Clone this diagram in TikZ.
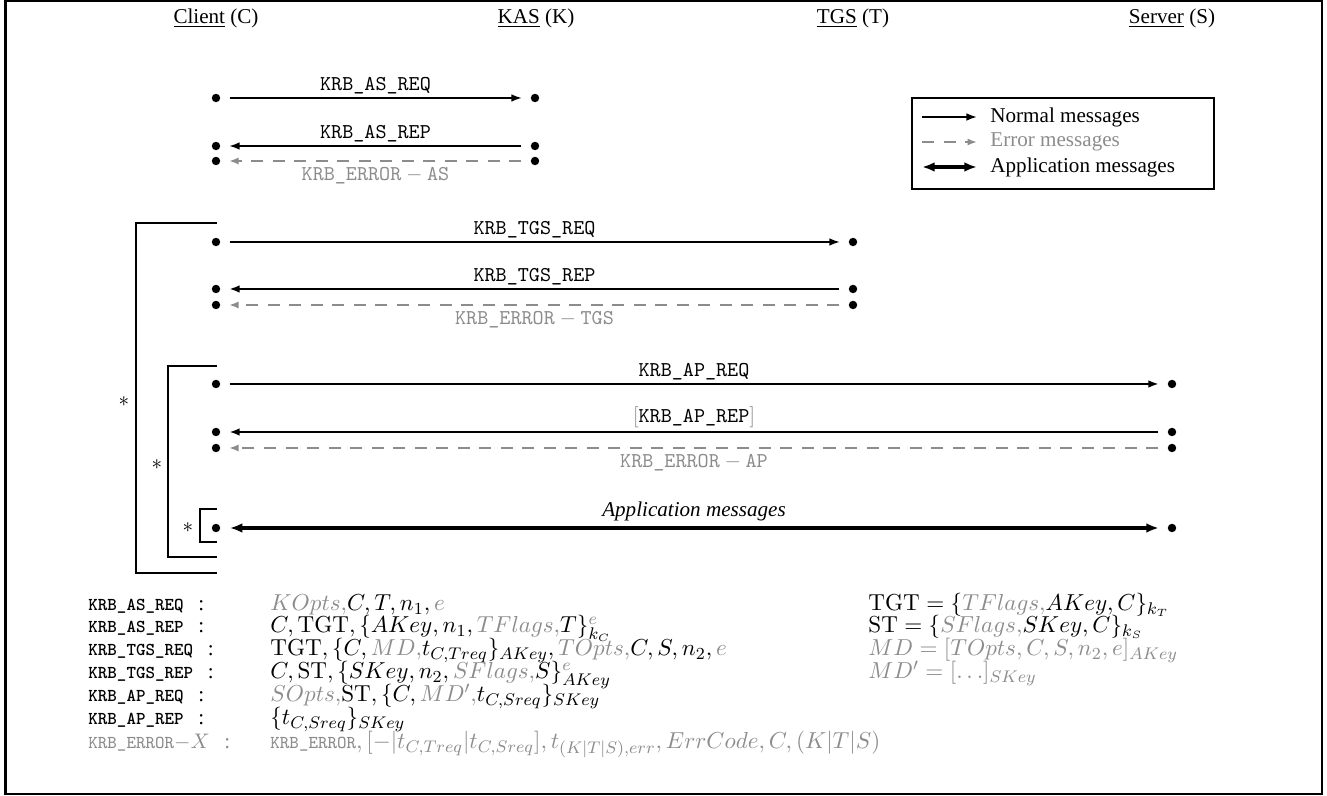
\documentclass[tikz,border=0pt]{standalone}
\usepackage[no-math]{fontspec}
\setmainfont{Liberation Serif}
\usetikzlibrary{arrows.meta}
\definecolor{errgray}{gray}{0.55}
\newcommand\grc[1]{\textcolor{errgray}{#1}}
\newcommand\krb[1]{\texttt{#1}}
\newcommand\bsm{\fontsize{8.6}{10}\selectfont\ttfamily\bfseries}
\newcommand\rsm{\fontsize{8.6}{10}\selectfont\ttfamily}
\begin{document}
\begin{tikzpicture}[x=0.474pt,y=-0.474pt,
  dot/.style={circle,fill=black,inner sep=0pt,minimum size=4pt},
  msg/.style={line width=0.8pt,-{Latex[length=5pt,width=3.6pt]},shorten >=4pt,shorten <=4.3pt},
  msgthick/.style={msg,line width=1.15pt},
  msgmid/.style={msg,line width=1pt},
  err/.style={errgray,line width=1pt,dash pattern=on 5.7pt off 4.5pt,-{Latex[length=4.5pt,width=3.4pt]},shorten >=4pt,shorten <=4.3pt},
  app/.style={line width=1.5pt,{Latex[length=6pt,width=4.6pt]}-{Latex[length=6pt,width=4.6pt]},shorten >=4pt,shorten <=4.3pt},
  lbl/.style={above,inner sep=1.5pt,font=\fontsize{10}{12}\selectfont},
  elbl/.style={below,inner sep=2.5pt,text=errgray,font=\fontsize{10}{12}\selectfont},
  hdr/.style={font=\fontsize{10}{12}\selectfont,inner sep=1pt},
  brk/.style={line width=1pt},
  legtxt/.style={anchor=west,inner sep=0pt,font=\fontsize{10}{12}\selectfont},
  blab/.style={anchor=base west,inner sep=0pt,font=\fontsize{10}{12}\selectfont},
  bmath/.style={anchor=base west,inner sep=0pt,font=\fontsize{11}{13}\selectfont}
]
\useasboundingbox (0,0) rectangle (1327,796);
\draw[line width=1pt] (5.5,1.2) rectangle (1322,794);

% headers
\node[hdr] (hC) at (216,18) {\underline{Client} (C)};
\node[hdr] (hK) at (536,18) {\underline{KAS} (K)};
\node[hdr] (hT) at (853,18) {\underline{TGS} (T)};
\node[hdr] (hS) at (1172,18) {\underline{Server} (S)};

% dots
\node[dot] (c1) at (216,98) {};  \node[dot] (k1) at (535,98) {};
\node[dot] (c2) at (216,146) {}; \node[dot] (k2) at (535,146) {};
\node[dot] (c3) at (216,161) {}; \node[dot] (k3) at (535,161) {};
\node[dot] (c4) at (216,242) {}; \node[dot] (t4) at (853,242) {};
\node[dot] (c5) at (216,289) {}; \node[dot] (t5) at (853,289) {};
\node[dot] (c6) at (216,305) {}; \node[dot] (t6) at (853,305) {};
\node[dot] (c7) at (216,384) {}; \node[dot] (s7) at (1172,384) {};
\node[dot] (c8) at (216,432) {}; \node[dot] (s8) at (1172,432) {};
\node[dot] (c9) at (216,448) {}; \node[dot] (s9) at (1172,448) {};
\node[dot] (c10) at (216,528) {}; \node[dot] (s10) at (1172,528) {};

% messages
\draw[msg] (c1) -- node[lbl] (l1) {\krb{KRB\_AS\_REQ}} (k1);
\draw[msg] (k2) -- node[lbl] (l2) {\krb{KRB\_AS\_REP}} (c2);
\draw[err] (k3) -- node[elbl] (l3) {\krb{KRB\_ERROR}${}-{}$\krb{AS}} (c3);
\draw[msg] (c4) -- node[lbl] (l4) {\krb{KRB\_TGS\_REQ}} (t4);
\draw[msgthick] (t5) -- node[lbl] (l5) {\krb{KRB\_TGS\_REP}} (c5);
\draw[err] (t6) -- node[elbl] (l6) {\krb{KRB\_ERROR}${}-{}$\krb{TGS}} (c6);
\draw[msgmid] (c7) -- node[lbl] (l7) {\krb{KRB\_AP\_REQ}} (s7);
\draw[msgmid] (s8) -- node[lbl] (l8) {\grc{$[$}\krb{KRB\_AP\_REP}\grc{$]$}} (c8);
\draw[err] (s9) -- node[elbl] (l9) {\krb{KRB\_ERROR}${}-{}$\krb{AP}} (c9);
\draw[app] (c10) -- node[lbl,inner sep=2.5pt] (l10) {\textit{Application messages}} (s10);

% brackets
\draw[brk] (217,223) -- (136,223) -- (136,573) -- (217,573);
\draw[brk] (217,366) -- (168,366) -- (168,557) -- (217,557);
\draw[brk] (217,509) -- (200,509) -- (200,542) -- (217,542);
\node[inner sep=0pt] (st1) at (124,402) {$*$};
\node[inner sep=0pt] (st2) at (157,465) {$*$};
\node[inner sep=0pt] (st3) at (188,528) {$*$};

% legend
\node[draw,line width=1pt,minimum width=143pt,minimum height=43pt,anchor=north west,inner sep=0pt] (leg) at (911,97) {};
\coordinate (la1) at (922,117); \coordinate (lb1) at (977,117);
\coordinate (la2) at (922,142); \coordinate (lb2) at (977,142);
\coordinate (la3) at (922,167); \coordinate (lb3) at (977,167);
\draw[msg,shorten >=0pt,shorten <=0pt] (la1) -- (lb1);
\draw[err,shorten >=0pt,shorten <=0pt] (la2) -- (lb2);
\draw[app,shorten >=0pt,shorten <=0pt] (la3) -- (lb3);
\node[legtxt] (lt1) at (990,117) {Normal messages};
\node[legtxt,text=errgray] (lt2) at (990,142) {Error messages};
\node[legtxt] (lt3) at (990,167) {Application messages};

% bottom definitions
\node[blab] (b1) at (88,611) {{\bsm KRB\_AS\_REQ}\hspace{7pt}:};
\node[blab] (b2) at (88,633) {{\bsm KRB\_AS\_REP}\hspace{7pt}:};
\node[blab] (b3) at (88,656) {{\bsm KRB\_TGS\_REQ}\hspace{7pt}:};
\node[blab] (b4) at (88,679) {{\bsm KRB\_TGS\_REP}\hspace{7pt}:};
\node[blab] (b5) at (88,702) {{\bsm KRB\_AP\_REQ}\hspace{7pt}:};
\node[blab] (b6) at (88,725) {{\bsm KRB\_AP\_REP}\hspace{7pt}:};
\node[blab,text=errgray] (b7) at (88,749) {{\rsm KRB\_ERROR}$-X$\hspace{7pt}:};

\node[bmath] (m1) at (270,611) {$\grc{KOpts,}C,T,n_1,\grc{e}$};
\node[bmath] (m2) at (270,633) {$C,\mathrm{TGT},\{AKey,n_1,\grc{TFlags,}T\}^{\grc{e}}_{k_C}$};
\node[bmath] (m3) at (270,656) {$\mathrm{TGT},\{C,\grc{MD,}t_{C,Treq}\}_{AKey},\grc{TOpts,}C,S,n_2,\grc{e}$};
\node[bmath] (m4) at (270,679) {$C,\mathrm{ST},\{SKey,n_2,\grc{SFlags,}S\}^{\grc{e}}_{AKey}$};
\node[bmath] (m5) at (270,702) {$\grc{SOpts,}\mathrm{ST},\{C,\grc{MD',}t_{C,Sreq}\}_{SKey}$};
\node[bmath] (m6) at (270,725) {$\{t_{C,Sreq}\}_{SKey}$};
\node[bmath,text=errgray] (m7) at (270,749) {{\rsm KRB\_ERROR}$,[-|t_{C,Treq}|t_{C,Sreq}],t_{(K|T|S),err},ErrCode,C,(K|T|S)$};

\node[bmath] (r1) at (868,611) {$\mathrm{TGT}=\{\grc{TFlags,}AKey,C\}_{k_T}$};
\node[bmath] (r2) at (868,633) {$\mathrm{ST}=\{\grc{SFlags,}SKey,C\}_{k_S}$};
\node[bmath,text=errgray] (r3) at (868,656) {$MD=[TOpts,C,S,n_2,e]_{AKey}$};
\node[bmath,text=errgray] (r4) at (868,679) {$MD'=[\ldots]_{SKey}$};
\end{tikzpicture}
\end{document}
